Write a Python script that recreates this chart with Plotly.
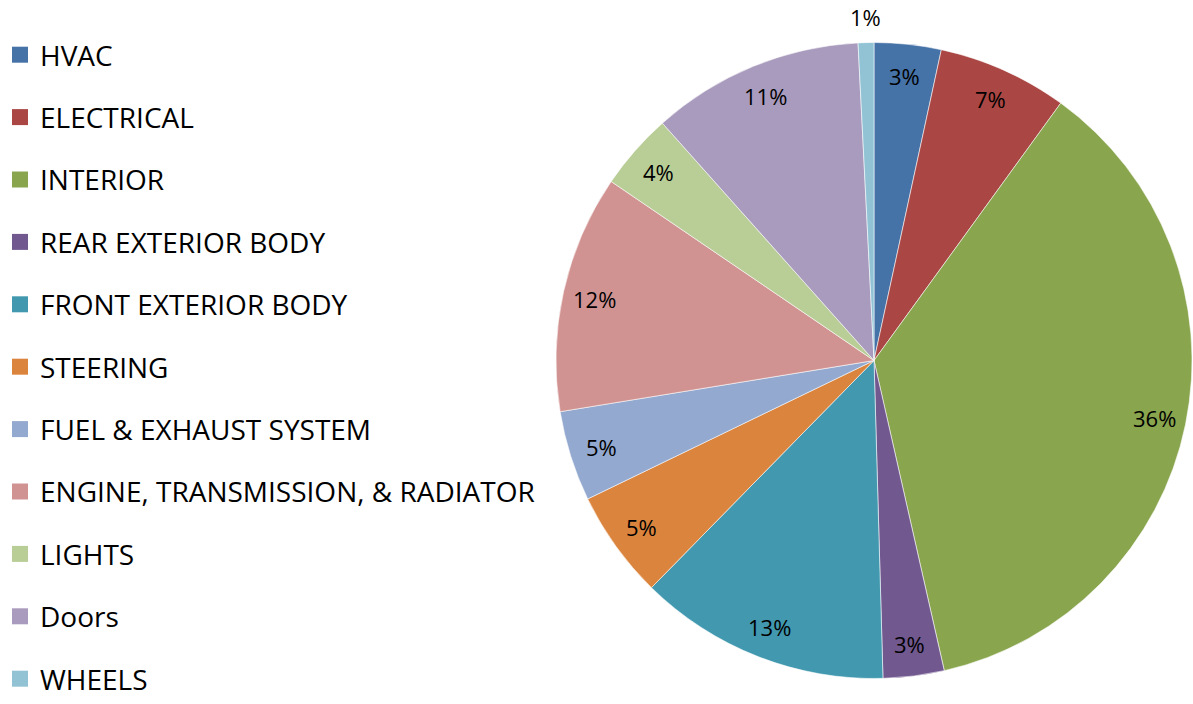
import math
import plotly.graph_objects as go

# Share of issues by vehicle system (percent)
categories = [
    "HVAC", "ELECTRICAL", "INTERIOR", "REAR EXTERIOR BODY", "FRONT EXTERIOR BODY",
    "STEERING", "FUEL & EXHAUST SYSTEM", "ENGINE, TRANSMISSION, & RADIATOR",
    "LIGHTS", "Doors", "WHEELS",
]
shares = [3.4, 6.6, 36.5, 3.1, 12.8, 5.5, 4.6, 12.1, 3.9, 10.8, 0.8]
colors = [
    "#4572A7", "#AA4643", "#89A54E", "#71588F", "#4198AF", "#DB843D",
    "#93A9CF", "#D19392", "#B9CD96", "#A99BBD", "#91C3D5",
]

W, H = 1193, 704
dom_x = [556 / W, 1192 / W]
dom_y = [25 / H, 662 / H]

fig = go.Figure()
fig.add_trace(go.Pie(
    labels=categories,
    values=shares,
    sort=False,
    direction="clockwise",
    rotation=0,
    marker=dict(colors=colors, line=dict(color="rgba(255,255,255,0.7)", width=0.8)),
    textinfo="none",
    hoverinfo="label+percent",
    showlegend=False,
    domain=dict(x=dom_x, y=dom_y),
))

# Legend entries (one group per category so the gap can be spaced out)
for name, col in zip(categories, colors):
    fig.add_trace(go.Scatter(
        x=[None], y=[None], mode="markers", name=name, legendgroup=name,
        marker=dict(symbol="square", size=16, color=col),
    ))

# Percentage labels placed along each slice's mid-angle
total = sum(shares)
cx = (dom_x[0] + dom_x[1]) / 2 * W
cy = (dom_y[0] + dom_y[1]) / 2 * H
radius = min((dom_x[1] - dom_x[0]) * W, (dom_y[1] - dom_y[0]) * H) / 2
cum = 0.0
for v in shares:
    frac = v / total
    mid = (cum + frac / 2) * 2 * math.pi
    cum += frac
    r = radius * (0.9 if frac >= 0.015 else 1.08)
    px = cx + r * math.sin(mid)
    py = cy + r * math.cos(mid)
    fig.add_annotation(
        x=px / W, y=py / H, xref="paper", yref="paper",
        text=f"{round(frac * 100):.0f}%", showarrow=False,
        font=dict(family="Open Sans", size=22, color="black"),
        xanchor="center", yanchor="middle",
    )

fig.update_layout(
    width=W, height=H,
    margin=dict(l=0, r=0, t=0, b=0),
    paper_bgcolor="white", plot_bgcolor="white",
    xaxis=dict(visible=False, domain=[0, 0.01]),
    yaxis=dict(visible=False, domain=[0, 0.01]),
    legend=dict(
        x=0, y=1 - 30 / H, xanchor="left", yanchor="top",
        font=dict(family="Open Sans", size=28, color="black"),
        tracegroupgap=23, traceorder="grouped",
        bgcolor="rgba(0,0,0,0)",
    ),
    showlegend=True,
)

fig.write_html("out.html")
